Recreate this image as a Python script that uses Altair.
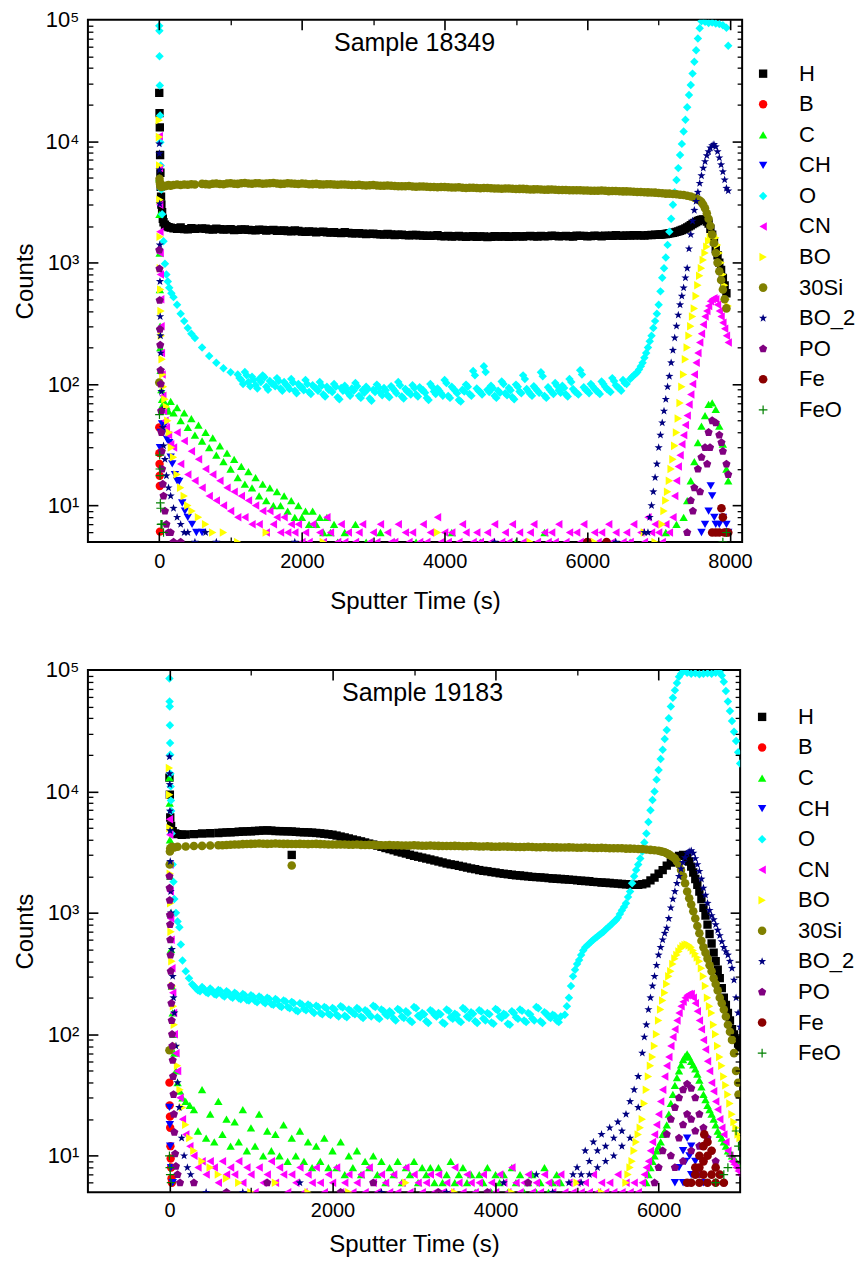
import altair as alt
import pandas as pd

FONT = "Liberation Sans"
SERIES = ["H", "B", "C", "CH", "O", "CN", "BO", "30Si", "BO_2", "PO", "Fe", "FeO"]
COLORS = ["#000000", "#ff0000", "#00ff00", "#0000ff", "#00ffff", "#ff00ff",
          "#ffff00", "#808000", "#000080", "#800080", "#8b0000", "#008000"]
STAR = ("M0,-1L0.235,-0.324L0.951,-0.309L0.38,0.124L0.588,0.809L0,0.4"
        "L-0.588,0.809L-0.38,0.124L-0.951,-0.309L-0.235,-0.324Z")
PENTAGON = "M0,-1L0.951,-0.309L0.588,0.809L-0.588,0.809L-0.951,-0.309Z"
PLUS = "M-1,-0.14H1V0.14H-1Z M-0.14,-1H0.14V1H-0.14Z"
SHAPES = ["square", "circle", "triangle-up", "triangle-down", "diamond", "triangle-left",
          "triangle-right", "circle", STAR, PENTAGON, "circle", PLUS]
SIZES = [70, 75, 110, 110, 115, 110, 110, 85, 150, 100, 75, 100]

Y_MAJOR = [10, 100, 1000, 10000, 100000]
Y_MINOR = [6, 7, 8, 9, 20, 30, 40, 50, 60, 70, 80, 90, 200, 300, 400, 500, 600, 700, 800, 900,
           2000, 3000, 4000, 5000, 6000, 7000, 8000, 9000,
           20000, 30000, 40000, 50000, 60000, 70000, 80000, 90000]
X1_MAJOR = [0, 2000, 4000, 6000, 8000]
X1_MINOR = [1000, 3000, 5000, 7000]
X2_MAJOR = [0, 2000, 4000, 6000]
X2_MINOR = [1000, 3000, 5000]

# ---------------- Sample 18349 ----------------
T_H1 = [0, 4, 8, 12, 16, 20, 25, 30, 40, 50, 60, 80, 100, 130, 160, 200, 250, 300, 350, 400, 450, 500] \
    + list(range(600, 7001, 100)) + list(range(7050, 7951, 50)) + list(range(650, 6951, 100))
V_H1 = [25000, 17000, 13000, 7700, 5500, 4200, 3500, 3000, 2600, 2300, 2150, 2050, 2000, 1960, 1940, 1920,
        1900, 1950, 1890, 1880, 1920, 1900,
        1910, 1880, 1900, 1870, 1890, 1860, 1880, 1850, 1870, 1840,
        1860, 1830, 1820, 1840, 1800, 1810, 1780, 1800, 1770, 1760,
        1780, 1740, 1750, 1720, 1730, 1710, 1720, 1690, 1700, 1680,
        1690, 1670, 1660, 1680, 1650, 1640, 1660, 1630, 1650, 1640,
        1620, 1650, 1640, 1630, 1650, 1640, 1660, 1640, 1650, 1670,
        1650, 1660, 1640, 1660, 1650, 1670, 1650, 1660, 1680, 1660,
        1670, 1680, 1670, 1690, 1700,
        1710, 1720, 1740, 1760, 1790, 1830, 1880, 1950, 2030, 2120,
        2200, 2260, 2250, 2100, 1700, 1300, 1000, 750, 560,
        1900, 1870, 1890, 1880, 1850, 1875, 1860, 1845, 1860, 1850,
        1830, 1840, 1810, 1820, 1790, 1800, 1790, 1775, 1780, 1750,
        1760, 1745, 1735, 1725, 1715, 1700, 1705, 1695, 1685, 1690,
        1675, 1665, 1670, 1655, 1660, 1650, 1640, 1645, 1635, 1645,
        1635, 1640, 1650, 1640, 1645, 1655, 1650, 1660, 1655, 1660,
        1655, 1650, 1665, 1660, 1655, 1660, 1670, 1665, 1670, 1675,
        1680, 1675, 1685, 1695]
T_H1_END = list(range(7025, 7926, 50))
V_H1_END = [1705, 1715, 1730, 1750, 1775, 1810, 1855, 1910, 1990, 2080,
            2160, 2240, 2270, 2180, 1900, 1500, 1150, 870, 650]

T_SI1 = [0, 4, 8, 12, 16, 20, 30, 40, 60, 80, 100, 130, 160, 200, 250, 300, 350, 400, 450, 500] \
    + list(range(600, 7001, 100)) + list(range(7050, 7951, 50)) + list(range(650, 6951, 100))
V_SI1 = [103, 4900, 4600, 4400, 4300, 4250, 4200, 4250, 4300, 4250, 4300, 4350, 4300, 4350, 4400, 4350,
         4400, 4380, 4420, 4400,
         4450, 4400, 4480, 4420, 4500, 4450, 4520, 4460, 4500, 4480,
         4520, 4450, 4500, 4460, 4480, 4420, 4450, 4400, 4420, 4380,
         4400, 4350, 4380, 4320, 4350, 4300, 4320, 4280, 4250, 4270,
         4220, 4240, 4200, 4180, 4200, 4150, 4170, 4120, 4140, 4100,
         4120, 4080, 4060, 4080, 4040, 4050, 4000, 4020, 3980, 4000,
         3960, 3970, 3940, 3950, 3920, 3900, 3920, 3880, 3890, 3860,
         3850, 3820, 3800, 3780, 3750,
         3730, 3700, 3700, 3680, 3650, 3620, 3600, 3550, 3500, 3420,
         3300, 3150, 2800, 2300, 1700, 1200, 850, 600, 420,
         4430, 4470, 4440, 4490, 4470, 4500, 4490, 4510, 4470, 4500,
         4480, 4470, 4490, 4440, 4460, 4430, 4410, 4420, 4390, 4400,
         4370, 4360, 4340, 4330, 4310, 4300, 4290, 4260, 4260, 4240,
         4230, 4210, 4200, 4190, 4170, 4160, 4140, 4130, 4110, 4110,
         4100, 4070, 4070, 4060, 4050, 4030, 4010, 4000, 3990, 3980,
         3970, 3950, 3950, 3930, 3910, 3910, 3900, 3890, 3870, 3860,
         3840, 3810, 3790, 3770]
T_SI1_END = list(range(7525, 7926, 50))
V_SI1_END = [3380, 3250, 3000, 2550, 2000, 1450, 1000, 720, 500]

T_O1 = [0, 2, 4, 8, 12, 16, 20, 30, 40, 60, 80, 100, 120, 140, 170, 200, 250, 300, 350, 400, 450, 500,
        600, 700, 800, 900, 1000] + list(range(1100, 6551, 50)) + list(range(6600, 7951, 50)) + [7975] \
    + list(range(1125, 6526, 50))
V_O1 = [89000, 81000, 50000, 28700, 16300, 9800, 6300, 4000, 2500, 1500, 980, 800, 700, 620, 560,
        520, 450, 380, 330, 290, 260, 240, 200, 170, 150, 135, 125,
        120, 108, 126, 104, 115, 98, 110, 118, 95, 106,
        100, 112, 92, 104, 96, 110, 88, 100, 94, 108,
        86, 98, 92, 104, 82, 95, 90, 100, 78, 93,
        97, 84, 92, 102, 80, 89, 95, 76, 90, 99,
        85, 93, 81, 96, 88, 104, 79, 91, 86, 98,
        82, 94, 89, 77, 100, 87, 92, 84, 108, 80,
        95, 88, 74, 90, 99, 83, 128, 92, 86, 140,
        90, 97, 80, 88, 105, 84, 93, 78, 99, 87,
        118, 91, 83, 96, 88, 125, 80, 94, 86, 102,
        89, 97, 82, 110, 91, 85, 130, 94, 88, 100,
        92, 86, 105, 95, 89, 112, 98, 92, 108, 100,
        110, 118, 125, 140, 165, 200, 250, 330, 450, 750,
        1100, 1800, 3000, 4800, 7700, 12000, 19000, 29000, 45000, 70000,
        97000, 96000, 94000, 95000, 93000, 92000, 90000, 86000, 61000,
        112, 100, 118, 96, 108, 92, 104, 114, 90, 101,
        96, 106, 88, 99, 91, 103, 84, 95, 89, 100,
        83, 94, 88, 97, 79, 90, 86, 95, 75, 88,
        92, 80, 88, 96, 77, 85, 91, 73, 86, 94,
        81, 89, 78, 92, 84, 98, 76, 87, 82, 93,
        79, 90, 85, 74, 95, 83, 88, 80, 102, 77,
        91, 84, 72, 87, 95, 80, 118, 88, 82, 126,
        86, 93, 77, 85, 100, 81, 89, 75, 95, 84,
        110, 87, 80, 92, 85, 116, 77, 90, 83, 97,
        85, 93, 79, 104, 87, 82, 120, 90, 84, 96,
        88, 83, 100, 91, 86, 106, 94, 88, 102]
T_O1_END = list(range(6625, 7576, 50))
V_O1_END = [114, 121, 132, 150, 180, 225, 290, 380, 580, 900,
            1400, 2300, 3800, 6000, 9500, 15000, 24000, 36000, 56000, 85000]

T_CN1 = [0, 3, 6, 9, 12, 15, 20, 25, 30, 40, 50, 60, 80, 100, 130, 160, 200] \
    + list(range(250, 2001, 50)) + list(range(2050, 6951, 50)) + list(range(7000, 7951, 50)) + [7975]
V_CN1 = [11000, 6000, 3000, 1800, 1200, 800, 500, 300, 180, 120, 80, 60, 50, 44, 38, 32, 30,
         40, 22, 34, 18, 28, 16, 24, 14, 20, 12, 18, 11, 16, 10, 14, 9, 13, 8, 12, 8,
         11, 7, 10, 7, 9, 6, 9, 7, 8, 6, 8, 6, 7, 6, 7, 5,
         6, 5, 7, 4, 6, 5, 8, 6, 4, 5,
         7, 5, 6, 4, 5, 6, 7, 4, 5, 6,
         5, 7, 4, 6, 5, 5, 7, 4, 6, 5,
         6, 4, 5, 7, 5, 6, 4, 8, 5, 6,
         5, 6, 4, 5, 7, 6, 4, 5, 6, 5,
         4, 6, 5, 7, 4, 5, 6, 5, 7, 4,
         6, 5, 4, 6, 7, 5, 4, 6, 5, 6,
         5, 7, 4, 5, 6, 4, 6, 5, 7, 5,
         4, 6, 5, 6, 4, 7, 5, 6, 4, 5,
         6, 5, 7, 4, 6, 5, 8, 6, 7,
         6, 5, 7, 6, 8, 16, 26, 38, 55, 82,
         120, 180, 260, 360, 440, 500, 500, 400, 320, 250, 220]
T_CN1_END = list(range(7225, 7926, 50))
V_CN1_END = [12, 21, 32, 46, 68, 100, 150, 220, 310, 400, 480, 510, 450, 360, 285]

T_C1 = [0, 3, 6, 9, 12, 15, 20, 30, 40, 50, 60, 80, 100, 130, 160, 200] + list(range(250, 2501, 50)) \
    + [2600, 2750, 2900, 3100, 3300, 3600, 4100, 4500, 5000, 5400, 6000, 6600, 7100, 7250] \
    + list(range(7350, 7951, 50)) + [7975]
V_C1 = [5000, 2500, 1200, 600, 300, 200, 130, 90, 75, 68, 64, 70, 66, 60, 72, 58,
        64, 50, 58, 44, 52, 38, 46, 34, 40, 30,
        36, 26, 31, 23, 27, 20, 24, 17, 21, 15,
        19, 14, 17, 12, 15, 11, 14, 10, 13, 10,
        12, 9, 11, 8, 10, 8, 9, 7, 9, 7,
        8, 6, 8, 6, 7, 5,
        6, 7, 5, 6, 5, 5, 6, 5, 5, 6, 5, 5, 6, 7,
        8, 11, 16, 23, 33, 45, 55, 68, 70, 62, 45, 32, 20, 16]

T_BO1 = [0, 3, 6, 9, 12, 16, 20, 25, 30, 40, 50, 60, 80, 100, 120, 140, 170, 200, 250, 300, 350, 400,
         460, 550, 650, 750, 900] + [1100, 1500, 2300, 3900, 5200, 6100, 6800, 6950] \
    + list(range(7050, 7951, 50)) + [7975]
V_BO1 = [14900, 10800, 6300, 3300, 1630, 900, 600, 400, 250, 160, 120, 95, 75, 65, 50, 40, 30, 25, 18,
         14, 12, 10, 9, 8, 7, 6, 6,
         5, 6, 5, 6, 5, 5, 6, 5,
         7, 11, 16, 24, 40, 70, 120, 200, 300, 420,
         650, 900, 1200, 1500, 1700, 1600, 1200, 800, 500, 440]
T_BO1_END = list(range(7075, 7926, 50))
V_BO1_END = [9, 13, 20, 31, 52, 95, 160, 250, 360, 530,
             780, 1050, 1350, 1620, 1680, 1400, 1000, 650]

T_B21 = [0, 2, 4, 6, 8, 10, 13, 16, 20, 25, 30, 40, 50, 60, 80, 100, 130, 160, 200, 250, 300, 350, 400] \
    + [500, 650, 800, 1900, 4700, 6400, 6800] + list(range(6850, 7951, 50)) + [7975]
V_B21 = [9500, 7900, 5800, 3050, 1400, 700, 360, 250, 180, 130, 87, 62, 44, 31, 24, 17.6, 14, 12, 9.5,
         8, 7, 6, 6,
         5, 6, 5, 5, 5, 5, 6,
         6, 10, 17, 30, 48, 75, 116, 190, 300, 450,
         620, 900, 1700, 2700, 3800, 5200, 6800, 8200, 9200, 9000,
         7300, 5600, 4100, 3900]
T_B21_END = list(range(6875, 7926, 50))
V_B21_END = [8, 13, 22, 38, 60, 95, 150, 240, 370, 530,
             750, 1300, 2200, 3200, 4500, 6000, 7600, 8800, 9400, 8200,
             6400, 4800]

T_PO1 = [0, 3, 6, 10, 14, 18, 22, 26, 30, 35, 40, 50, 60, 80, 100, 130, 160, 200, 300] \
    + [7400, 7450, 7500, 7550, 7600, 7650, 7700, 7750, 7800, 7850, 7900, 7950, 7975] \
    + [7480, 7580, 7680, 7720, 7880]
V_PO1 = [1270, 890, 490, 283, 210, 130, 100, 60, 40, 28, 20, 15, 12, 9, 7, 6, 6, 5, 5,
         6, 11, 14, 20, 25, 30, 40, 50, 48, 38, 28, 22, 18,
         9, 13, 22, 30, 33]

T_CH1 = [10, 20, 40, 60, 84, 110, 140, 160, 182, 220, 250, 280, 322, 360, 400, 460, 520, 600] \
    + [7600, 7650, 7700, 7730, 7750, 7780, 7800, 7850, 7900, 7950, 7975]
V_CH1 = [30, 40, 47, 40, 47, 35, 33, 25, 22, 18, 16, 15.8, 10.5, 9, 8, 7, 6, 6,
         6, 7, 9, 14.5, 12, 8, 7, 7, 8, 7, 6]

T_B1 = [0, 2, 4, 6, 8, 10]
V_B1 = [44, 27, 22, 17.6, 14.5, 6.1]
T_FE1 = [6000, 6270, 7750, 7800, 7850, 7880, 7900, 7920, 7950, 7975]
V_FE1 = [5, 5, 6, 6, 6, 9.5, 8, 6, 6, 6]
T_FEO1 = [3, 6, 9, 12, 15, 20, 25, 30, 40, 60, 7900, 7950]
V_FEO1 = [56, 26, 20, 17.6, 10.5, 9.5, 7, 7, 7, 6, 5, 6]

# ---------------- Sample 19183 ----------------
T_H2 = [0, 5, 10, 20, 40, 70, 100, 150, 200, 300, 400, 500] + list(range(600, 6301, 100)) \
    + list(range(6350, 6951, 50)) + [6990, 1500] + list(range(650, 6251, 100))
V_H2 = [13000, 9400, 6100, 5200, 4700, 4500, 4450, 4400, 4420, 4450, 4500, 4520,
        4550, 4600, 4620, 4680, 4700, 4750, 4780, 4720, 4700,
        4680, 4620, 4600, 4550, 4480, 4400,
        4250, 4100, 3950, 3800, 3650, 3500, 3350, 3200, 3080, 2950,
        2850, 2750, 2650, 2550, 2480, 2400, 2320, 2250, 2200, 2150,
        2100, 2060, 2030, 2000, 1970, 1950, 1920, 1900, 1880, 1850,
        1830, 1800, 1780, 1760, 1740, 1720, 1700, 1720, 1850, 2100,
        2450, 2800, 3000,
        2900, 2400, 1900, 1500, 1100, 800, 560, 400, 290, 200, 150, 110, 90, 78, 3000,
        4580, 4610, 4650, 4690, 4720, 4770, 4760, 4710, 4690, 4650,
        4610, 4580, 4520, 4440, 4330, 4180, 4020, 3880, 3720, 3580,
        3420, 3280, 3140, 3010, 2900, 2800, 2700, 2600, 2510, 2440,
        2360, 2290, 2220, 2170, 2120, 2080, 2040, 2010, 1980, 1960,
        1930, 1910, 1890, 1870, 1840, 1820, 1790, 1770, 1750, 1730,
        1710, 1700, 1750, 1950, 2250, 2600, 2950]
T_H2_END = list(range(6325, 6976, 50))
V_H2_END = [2980, 2650, 2150, 1700, 1300, 950, 670, 470, 340, 240, 175, 130, 100, 84]

T_SI2 = [0, 3, 6, 10, 30, 60, 100, 200, 300, 400, 500] + list(range(600, 6001, 100)) \
    + list(range(6050, 6951, 50)) + [6980, 1500] + list(range(650, 5951, 100))
V_SI2 = [74, 2500, 3200, 3400, 3500, 3450, 3500, 3520, 3550, 3560, 3580,
         3600, 3620, 3650, 3680, 3700, 3720, 3700, 3720, 3700, 3690,
         3700, 3680, 3700, 3670, 3650, 3660, 3640, 3650, 3620, 3630,
         3600, 3620, 3600, 3580, 3600, 3570, 3580, 3560, 3550, 3560,
         3540, 3550, 3520, 3530, 3500, 3520, 3500, 3480, 3500, 3470,
         3480, 3460, 3450, 3460, 3440, 3450, 3420, 3430, 3400, 3410,
         3380, 3370, 3350, 3300, 3250,
         3180, 3100, 2950, 2800, 2500, 2000, 1500, 1170, 900, 680,
         520, 420, 330, 260, 200, 160, 120, 90, 50, 32, 2450,
         3610, 3640, 3660, 3690, 3710, 3710, 3710, 3710, 3700, 3690,
         3690, 3690, 3680, 3660, 3650, 3650, 3640, 3630, 3630, 3610,
         3610, 3610, 3590, 3590, 3580, 3570, 3570, 3550, 3550, 3550,
         3540, 3530, 3520, 3510, 3510, 3510, 3490, 3490, 3480, 3470,
         3470, 3460, 3450, 3450, 3440, 3440, 3420, 3420, 3400, 3400,
         3380, 3360, 3330, 3280]
T_SI2_END = list(range(6025, 6976, 50))
V_SI2_END = [3220, 3150, 3030, 2880, 2650, 2250, 1750, 1320, 1030, 780,
             590, 470, 370, 290, 230, 180, 140, 105, 70, 40]

T_O2 = [0, 2, 4, 6, 8, 10, 12, 15, 18, 22, 26, 30, 40, 50, 60, 80, 100, 122, 140, 160, 200, 240, 280] \
    + list(range(300, 4801, 50)) + list(range(4850, 7001, 50)) + list(range(325, 4776, 50))
V_O2 = [85000, 55000, 50000, 35000, 25000, 20000, 14000, 11000, 8400, 6900, 4500, 3500, 2500, 1800,
        1300, 1000, 850, 760, 550, 406, 330, 290, 258,
        250, 230, 245, 222, 238, 215, 232, 210, 226, 205,
        220, 198, 215, 192, 210, 188, 205, 185, 200, 178,
        195, 172, 190, 168, 185, 158, 180, 162, 176, 155,
        172, 150, 168, 148, 165, 145, 170, 142, 160, 150,
        165, 140, 158, 145, 172, 138, 160, 146, 155, 135,
        162, 140, 155, 130, 168, 142, 150, 128, 158, 145,
        150, 125, 160, 138, 148, 130, 165, 140, 152, 128,
        158, 135, 150, 125, 162, 140, 148, 122, 155, 138,
        160, 130, 150, 135, 168, 128, 152, 140, 145, 130,
        140,
        145, 200, 300, 380, 450, 520, 560, 600, 640, 680,
        730, 780, 840, 910, 1050, 1200, 1500, 2000, 2500, 3200,
        4500, 7000, 10000, 15000, 22000, 32000, 50000, 68000, 88000, 97000,
        95000, 93000, 94000, 92000, 93000, 94000, 93000, 95000, 96000, 80000,
        55000, 38000, 26000, 17000,
        240, 226, 236, 218, 230, 212, 228, 205, 220, 200,
        214, 194, 210, 190, 205, 184, 200, 180, 195, 175,
        190, 168, 186, 164, 180, 155, 176, 158, 172, 150,
        168, 146, 164, 144, 160, 140, 166, 138, 156, 146,
        160, 136, 154, 140, 168, 134, 156, 142, 150, 130,
        158, 136, 150, 126, 164, 138, 146, 124, 154, 140,
        146, 122, 156, 134, 144, 126, 160, 136, 148, 124,
        154, 130, 146, 122, 158, 136, 144, 120, 150, 134,
        156, 126, 146, 130, 164, 124, 148, 136, 142, 126]
T_O2_END = list(range(4875, 6276, 50)) + list(range(6775, 6976, 50))
V_O2_END = [170, 250, 340, 410, 490, 540, 580, 620, 660, 700,
            755, 810, 870, 980, 1120, 1350, 1750, 2250, 2800, 3800,
            5600, 8500, 12500, 18500, 27000, 40000, 59000, 78000, 93000,
            90000, 67000, 46000, 31000, 21000]

T_B22 = [0, 2, 4, 6, 8, 10, 15, 20, 30, 40, 50, 60, 80, 100, 120, 150, 180, 220, 260, 300] \
    + [450, 900, 1600, 2600, 3400, 4100, 4500, 4700] + list(range(4900, 7001, 50)) \
    + [5050, 5150, 5250, 5350, 5450, 5550, 5650, 5750]
V_B22 = [19300, 14000, 11400, 6900, 4750, 2650, 1500, 1000, 500, 300, 200, 150, 80, 40, 25, 14, 10, 8, 7, 6,
         5, 5, 6, 5, 5, 6, 7, 5,
         6, 7, 8, 7, 11, 9, 13, 11, 15, 12,
         17, 14, 19, 16, 22, 28, 35, 45, 70, 120,
         200, 300, 450, 600, 750, 1100, 1500, 2000, 2600, 3100,
         3250, 2800, 2200, 1600, 1200, 950, 800, 650, 520, 450,
         350, 200, 115,
         6, 7, 8, 9, 10, 12, 14, 25]
T_B22_END = list(range(5825, 6976, 50))
V_B22_END = [95, 160, 250, 370, 520, 680, 900, 1300, 1750, 2300,
             2850, 3200, 3100, 2500, 1900, 1400, 1050, 880, 720, 580,
             480, 400, 280, 150]

T_BO2 = [0, 3, 6, 10, 15, 20, 30, 40, 50, 60, 80, 100, 130, 160, 200, 250, 300, 400, 500, 600, 700] \
    + [850, 1000, 1300, 1700, 2200, 2900, 3500, 4200, 5000, 5300] + list(range(5600, 7001, 50))
V_BO2 = [15600, 9400, 5000, 2100, 1200, 700, 400, 250, 170, 120, 80, 55, 35, 25, 18, 14, 11, 9, 8, 7, 6.5,
         6, 5, 6, 5, 5, 6, 5, 5, 6, 5,
         6, 8, 11, 15, 20, 35, 55, 80, 130, 190,
         260, 330, 420, 480, 530, 550, 520, 460, 400, 300,
         200, 150, 100, 65, 45, 32, 22, 17, 14]
T_BO2_END = list(range(5625, 6976, 50))
V_BO2_END = [7, 9, 13, 17, 27, 45, 65, 100, 160, 220,
             300, 380, 450, 510, 545, 540, 490, 430, 350, 250,
             170, 120, 80, 55, 38, 27, 19, 15]

T_CN2 = [0, 3, 6, 10, 15, 20, 30, 40, 50, 60, 80, 100, 130, 160, 200, 250] \
    + list(range(300, 5001, 50)) + list(range(5050, 7001, 50))
V_CN2 = [5900, 4400, 2500, 1500, 900, 600, 350, 220, 150, 100, 70, 50, 30, 20, 15, 12,
         10, 8, 9, 7, 9, 8, 6, 9, 7, 8,
         7, 9, 6, 8, 7, 5, 8, 6, 7, 9,
         6, 8, 7, 5, 7, 6, 8, 5, 7, 6,
         8, 6, 5, 7, 6, 8, 5, 6, 7, 5,
         6, 7, 5, 8, 6, 5, 7, 6, 5, 7,
         5, 6, 8, 5, 7, 6, 5, 6, 7, 5,
         7, 5, 6, 5, 8, 6, 5, 7, 6, 5,
         6, 7, 5, 6, 5, 7, 6, 5, 8, 6,
         5, 6, 7, 5, 6, 5, 7, 6, 5, 6,
         7, 5, 6, 5, 6,
         5, 6, 5, 7, 5, 6, 5, 6, 5, 7,
         5, 6, 5, 6, 5, 6, 8, 11, 15, 22,
         35, 55, 80, 110, 150, 185, 210, 215, 180, 130,
         90, 60, 40, 28, 20, 15, 11, 9, 8, 7]
T_CN2_END = list(range(5825, 6976, 50))
V_CN2_END = [7, 9, 13, 18, 28, 45, 65, 95, 130, 170,
             200, 215, 200, 155, 110, 75, 50, 34, 24, 17,
             13, 10, 8.5, 7.5]

T_C2 = [0, 3, 6, 10, 15, 20, 30, 40, 50, 60, 80, 100, 130, 160, 200, 250] \
    + list(range(300, 4801, 50)) + list(range(5850, 7001, 50))
V_C2 = [13000, 8000, 4000, 2000, 1000, 500, 250, 150, 100, 70, 50, 40, 34, 30, 28, 26,
        24, 16, 35, 14, 22, 13, 28, 15, 20, 12,
        19, 13, 24, 11, 17, 12, 22, 10, 16, 11,
        15, 10, 18, 9, 14, 10, 16, 9, 13, 8,
        12, 9, 14, 8, 11, 8, 13, 7, 10, 8,
        11, 7, 9, 8, 10, 7, 9, 6, 8, 7,
        9, 6, 8, 7, 9, 6, 8, 7, 8, 6,
        8, 6, 7, 9, 6, 7, 8, 6, 7, 5,
        7, 6, 8, 5, 7, 6, 7, 5, 8, 6,
        7, 5, 6, 7, 5, 6, 8, 5, 6, 7,
        6,
        6, 8, 10, 12, 15, 18, 27, 38, 50, 62,
        69, 60, 52, 42, 32, 26, 22, 18, 15, 13,
        11, 10, 9, 8]
T_C2_END = list(range(5875, 6976, 50))
V_C2_END = [7, 9, 11, 13, 16, 22, 32, 44, 56, 66,
            65, 56, 47, 37, 29, 24, 20, 16, 14, 12,
            10.5, 9.5, 8.5]

T_PO2 = [0, 2, 4, 6, 8, 10, 13, 16, 20, 24, 28, 32, 36, 40, 45, 50, 55, 60, 70, 80, 100, 130] \
    + [300, 700, 1200, 2100, 2500, 3300, 3900, 4400] + list(range(5950, 6801, 50)) \
    + [6150, 6250, 6300, 6350, 6400, 6450, 6500, 6550, 6200, 6300, 6400, 6500]
V_PO2 = [2000, 1600, 1270, 960, 800, 600, 450, 330, 250, 180, 130, 100, 80, 61, 45, 32, 22, 15.6, 10.4,
         8.2, 7, 6,
         6, 5, 6, 5, 6, 5, 5, 6,
         6, 8, 11, 15, 20, 25, 30, 35, 39, 36, 30, 22, 17, 14, 11, 9, 7, 6,
         10, 14, 18, 22, 20, 16, 12, 9, 8, 9, 11, 7]

T_CH2 = [0, 5, 10, 20, 40, 6200, 6250, 6300, 6330, 6350, 6380, 6400, 6450, 6500, 6550, 6300, 6400]
V_CH2 = [25, 18, 12, 8, 6, 6, 8, 11, 9, 14, 10, 12, 9, 7, 6, 6, 7]
T_FE2 = [6350, 6400, 6450, 6450, 6500, 6500, 6500, 6550, 6550, 6550, 6560, 6600, 6600, 6600,
         6650, 6650, 6700, 6700, 6750, 6800]
V_FE2 = [6, 6, 7, 8, 6, 8, 10, 7, 9, 12, 15, 6, 10, 13, 7, 11, 6, 8, 7, 6]
T_FEO2 = [0, 5, 10, 20, 6700, 6800, 6850, 6900, 6950, 6980, 7000]
V_FEO2 = [10, 8, 7, 6, 6, 7, 8, 10, 16, 12, 9]
T_B2 = [0, 3, 6, 9, 12, 15, 20, 25, 30]
V_B2 = [40, 26, 21, 17, 12, 9.5, 8, 6.5, 6]

PANEL1 = {"H": [(T_H1, V_H1), (T_H1_END, V_H1_END)], "B": [(T_B1, V_B1)], "C": [(T_C1, V_C1)],
          "CH": [(T_CH1, V_CH1)], "O": [(T_O1, V_O1), (T_O1_END, V_O1_END)],
          "CN": [(T_CN1, V_CN1), (T_CN1_END, V_CN1_END)], "BO": [(T_BO1, V_BO1), (T_BO1_END, V_BO1_END)],
          "30Si": [(T_SI1, V_SI1), (T_SI1_END, V_SI1_END)],
          "BO_2": [(T_B21, V_B21), (T_B21_END, V_B21_END)], "PO": [(T_PO1, V_PO1)],
          "Fe": [(T_FE1, V_FE1)], "FeO": [(T_FEO1, V_FEO1)]}
PANEL2 = {"H": [(T_H2, V_H2), (T_H2_END, V_H2_END)], "B": [(T_B2, V_B2)],
          "C": [(T_C2, V_C2), (T_C2_END, V_C2_END)], "CH": [(T_CH2, V_CH2)],
          "O": [(T_O2, V_O2), (T_O2_END, V_O2_END)], "CN": [(T_CN2, V_CN2), (T_CN2_END, V_CN2_END)],
          "BO": [(T_BO2, V_BO2), (T_BO2_END, V_BO2_END)], "30Si": [(T_SI2, V_SI2), (T_SI2_END, V_SI2_END)],
          "BO_2": [(T_B22, V_B22), (T_B22_END, V_B22_END)], "PO": [(T_PO2, V_PO2)],
          "Fe": [(T_FE2, V_FE2)], "FeO": [(T_FEO2, V_FEO2)]}


def frame(panel):
    rows = []
    for k, name in enumerate(SERIES):
        for ts, vs in panel[name]:
            for t, v in zip(ts, vs):
                rows.append({"t": t, "v": v, "s": name, "k": k})
    return pd.DataFrame(rows)


HH = 523
LABEL_EXPR = ("datum.value >= 100000 ? '10⁵' : datum.value >= 10000 ? '10⁴' : "
              "datum.value >= 1000 ? '10³' : datum.value >= 100 ? '10²' : '10¹'")


def panel(df, label, xmax, width, xmaj, xmin, legend_x, legend_y, title_x, lab_pad, tit_pad):
    xs = alt.Scale(domain=[-1000, xmax], nice=False, zero=False)
    ys = alt.Scale(type="log", domain=[5, 100000], nice=False)
    leg = alt.Legend(title=None, orient="none", legendX=legend_x, legendY=legend_y,
                     labelFont=FONT, labelFontSize=22, labelColor="black", symbolSize=45,
                     rowPadding=8.6, labelOffset=25, padding=0, symbolStrokeWidth=0,
                     labelLimit=300)
    pts = alt.Chart(df).mark_point(filled=True, opacity=1, clip=True, strokeWidth=0).encode(
        x=alt.X("t:Q", scale=xs, axis=alt.Axis(
            values=xmaj, format="d", ticks=False, tickSize=0, domain=False, grid=False,
            labelFont=FONT, labelFontSize=20, labelPadding=lab_pad, labelColor="black",
            title="Sputter Time (s)", titleFont=FONT, titleFontSize=24, titleFontWeight="normal",
            titlePadding=tit_pad, titleColor="black")),
        y=alt.Y("v:Q", scale=ys, axis=alt.Axis(
            values=Y_MAJOR, labelExpr=LABEL_EXPR, ticks=False, tickSize=0, domain=False,
            grid=False, labelFont=FONT, labelFontSize=22, labelPadding=9, labelColor="black",
            title="Counts", titleFont=FONT, titleFontSize=24, titleFontWeight="normal",
            titlePadding=8, titleColor="black")),
        color=alt.Color("s:N", scale=alt.Scale(domain=SERIES, range=COLORS), legend=leg),
        shape=alt.Shape("s:N", scale=alt.Scale(domain=SERIES, range=SHAPES), legend=leg),
        size=alt.Size("s:N", scale=alt.Scale(domain=SERIES, range=SIZES), legend=None),
    )
    tick_df = pd.DataFrame({"t": [0], "v": [10]})

    def tick_layer(xo, yo, xv, yv, size, tw):
        return alt.Chart(tick_df).mark_point(opacity=0).encode(
            x=alt.X("t:Q", scale=xs, axis=alt.Axis(
                orient=xo, offset=-HH, values=xv, labels=False, domain=False, grid=False,
                ticks=True, tickSize=size, tickWidth=tw, tickColor="black", title=None, zindex=2)),
            y=alt.Y("v:Q", scale=ys, axis=alt.Axis(
                orient=yo, offset=-width, values=yv, labels=False, domain=False, grid=False,
                ticks=True, tickSize=size, tickWidth=tw, tickColor="black", title=None, zindex=2)),
        )

    txt = alt.Chart(pd.DataFrame({"label": [label]})).mark_text(
        font=FONT, fontSize=25, baseline="alphabetic", align="center", color="black"
    ).encode(text="label:N", x=alt.value(title_x), y=alt.value(31))

    layers = [pts,
              tick_layer("top", "right", xmaj, Y_MAJOR[:-1], 10, 1.6),
              tick_layer("top", "right", xmin, Y_MINOR, 5, 1.3),
              tick_layer("bottom", "left", xmaj, Y_MAJOR[:-1], 10, 1.6),
              tick_layer("bottom", "left", xmin, Y_MINOR, 5, 1.3),
              txt]
    return alt.layer(*layers).resolve_axis(x="independent", y="independent").properties(
        width=width, height=HH)


p1 = panel(frame(PANEL1), "Sample 18349", 8170, 655, X1_MAJOR, X1_MINOR, 665, 43, 327, 9, 18)
p2 = panel(frame(PANEL2), "Sample 19183", 7000, 653, X2_MAJOR, X2_MINOR, 664, 36, 335, 8, 12)

chart = alt.vconcat(p1, p2, spacing=44).resolve_scale(
    color="independent", shape="independent", size="independent"
).resolve_legend(color="independent", shape="independent").properties(
    padding={"left": 4, "top": -1, "right": 0, "bottom": 0}, background="white"
).configure_view(stroke="black", strokeWidth=2)

chart.save("out.html", embed_options={"renderer": "svg", "actions": False})
